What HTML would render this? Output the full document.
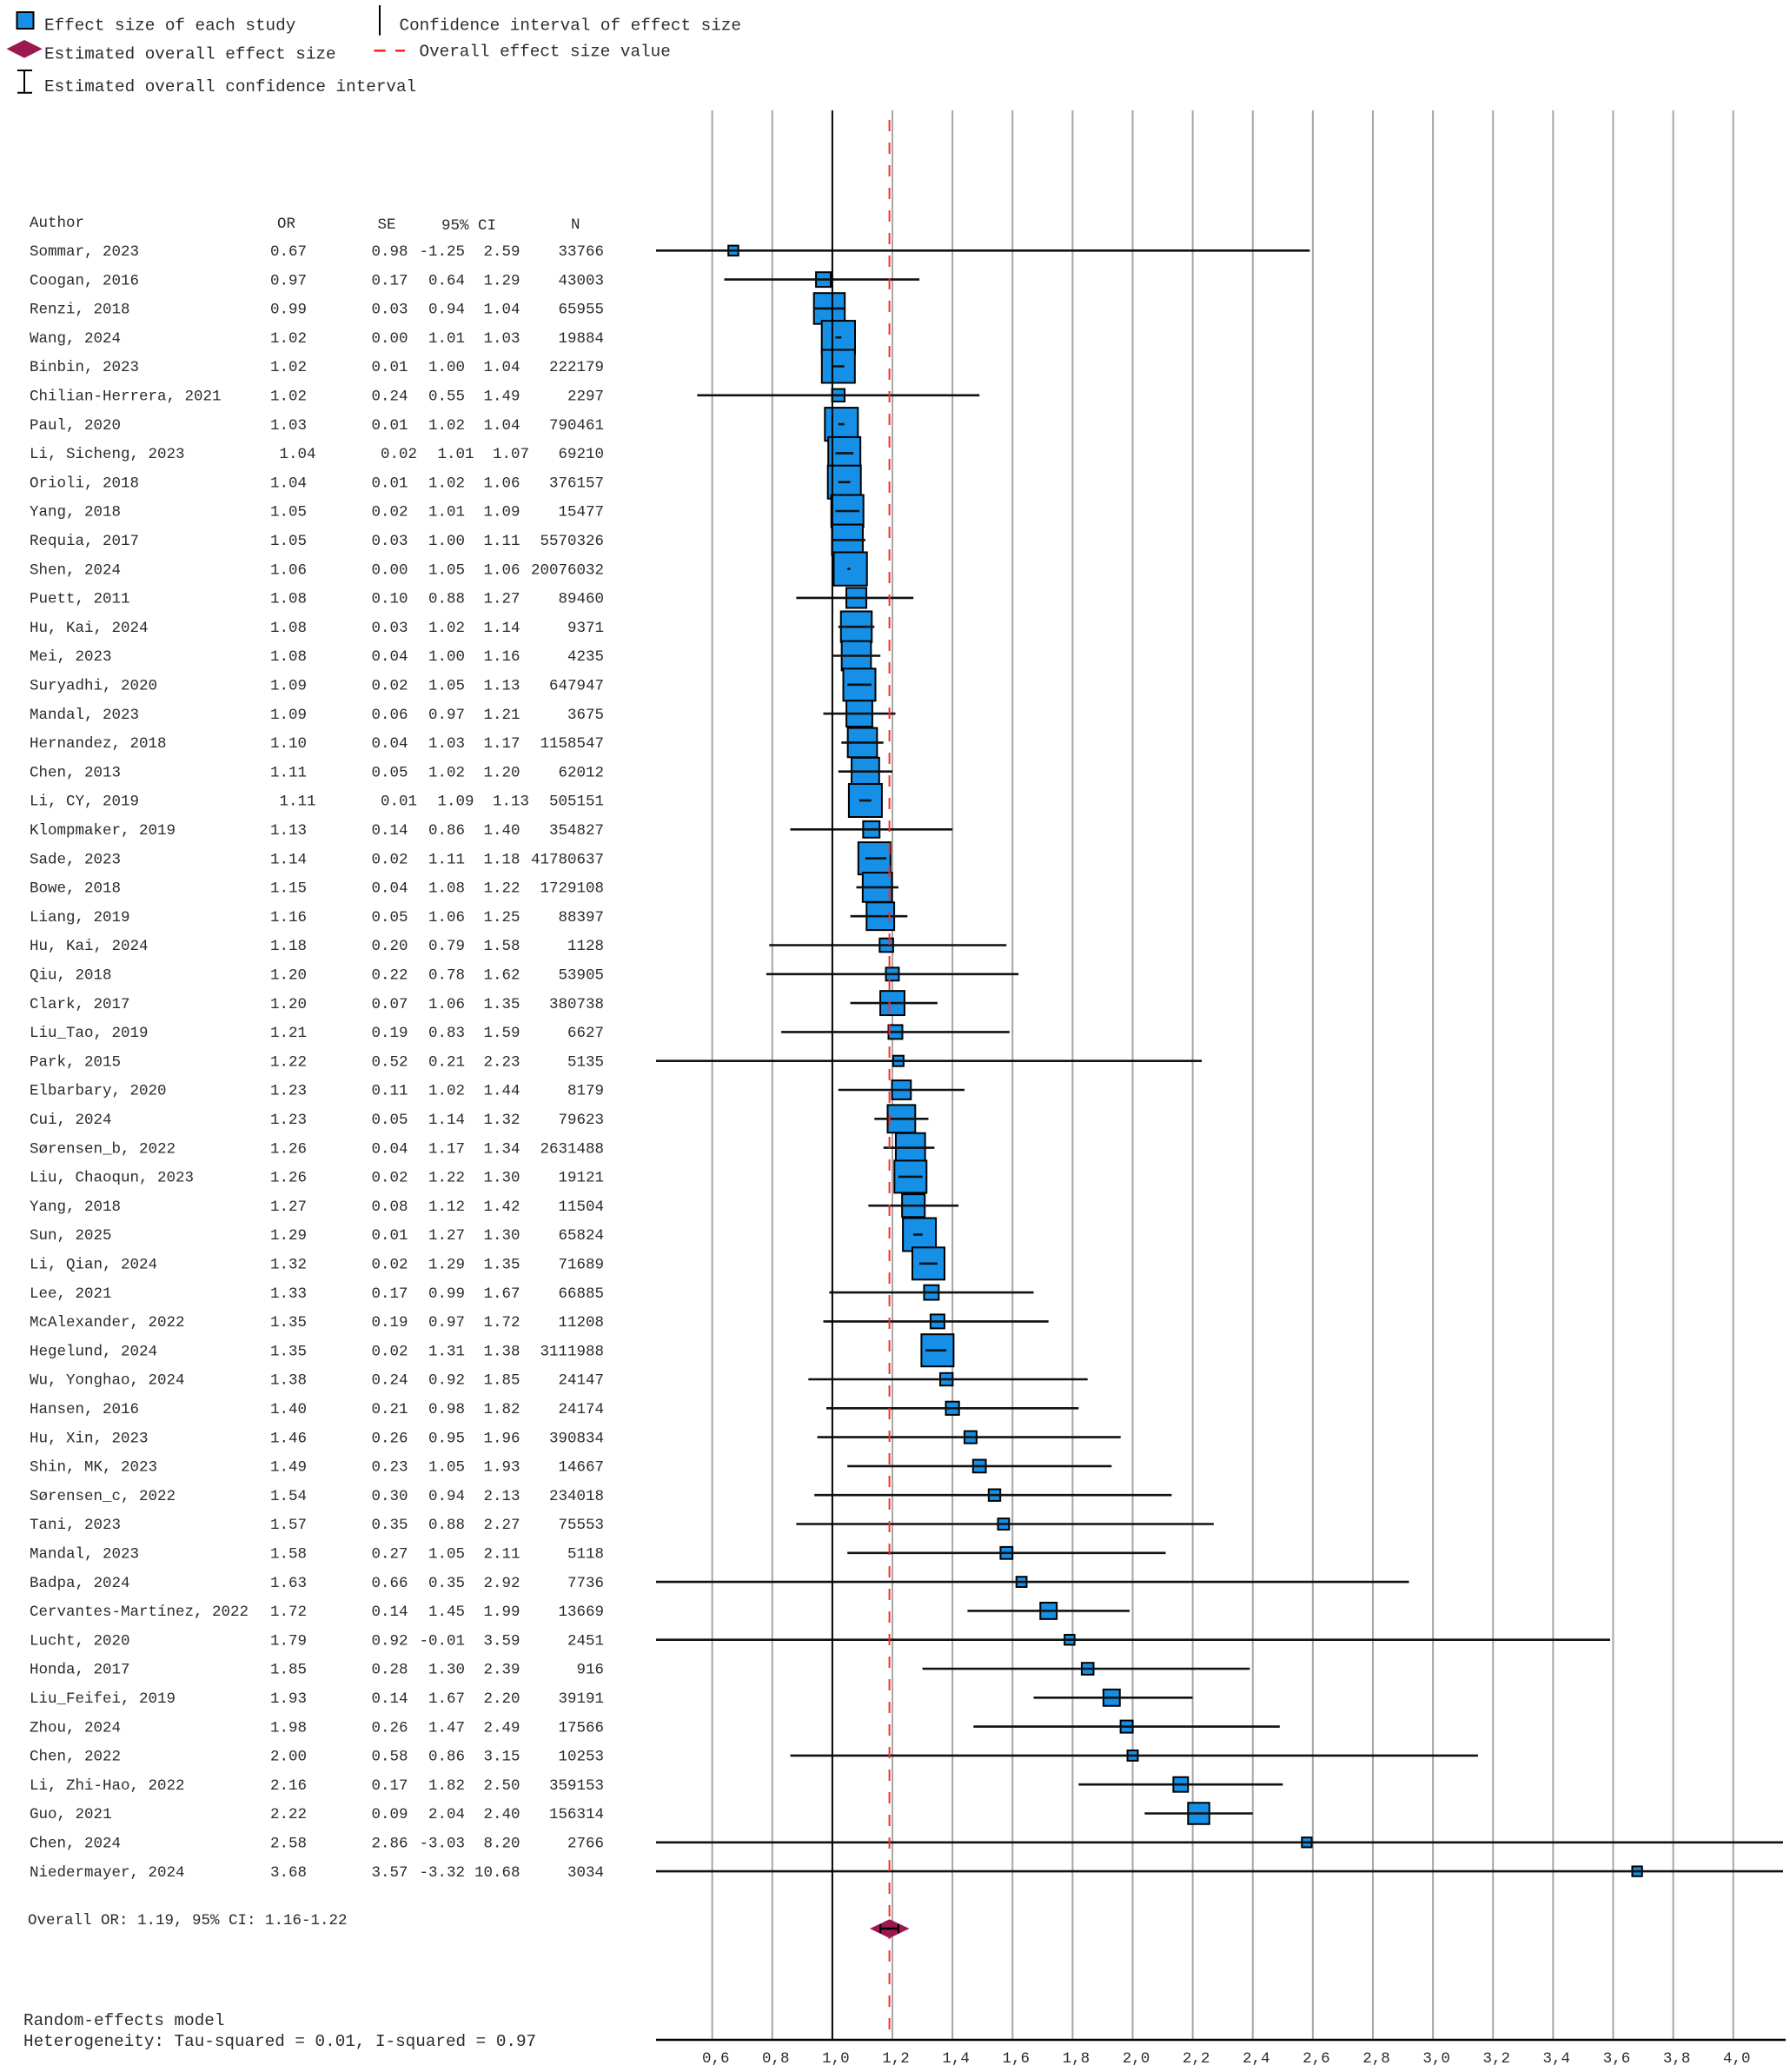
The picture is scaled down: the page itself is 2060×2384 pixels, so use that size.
<!DOCTYPE html>
<html><head><meta charset="utf-8"><style>
html,body{margin:0;padding:0;background:#fff;}
svg{display:block;}
text{font-family:"Liberation Mono","DejaVu Sans Mono",monospace;fill:#2b2b2b;}
.t text{font-size:17.5px;}
.e{text-anchor:end;}
.lg{font-size:19.3px;}
.tk{font-size:17.5px;text-anchor:middle;}
.b{fill:#1590e6;stroke:#000;stroke-width:2;}
.ci{stroke:#111;stroke-width:2.6;}
.g{stroke:#a6a6a6;stroke-width:2;}
</style></head><body>
<svg width="2060" height="2384" viewBox="0 0 2060 2384" xmlns="http://www.w3.org/2000/svg">
<rect width="2060" height="2384" fill="#fff"/>
<!-- Legend -->
<rect x="19.5" y="14" width="19" height="19" class="b"/>
<text class="lg" x="51" y="34.3">Effect size of each study</text>
<line x1="437" y1="6" x2="437" y2="40.7" stroke="#000" stroke-width="2"/>
<text class="lg" x="459.5" y="34.3">Confidence interval of effect size</text>
<polygon points="7.5,56.3 28,46 48.8,56.3 28,66.7" fill="#9c1850"/>
<text class="lg" x="51" y="67.5">Estimated overall effect size</text>
<line x1="430.5" y1="58.3" x2="443.7" y2="58.3" stroke="#ff2020" stroke-width="2.5"/>
<line x1="455" y1="58.3" x2="466" y2="58.3" stroke="#ff2020" stroke-width="2.5"/>
<text class="lg" x="482.5" y="64.5">Overall effect size value</text>
<line x1="28" y1="80" x2="28" y2="107.7" stroke="#000" stroke-width="2"/>
<line x1="20" y1="81" x2="37" y2="81" stroke="#000" stroke-width="2"/>
<line x1="20" y1="106.7" x2="37" y2="106.7" stroke="#000" stroke-width="2"/>
<text class="lg" x="51" y="105">Estimated overall confidence interval</text>

<!-- Gridlines -->
<g class="g">
<line x1="819.66" y1="127" x2="819.66" y2="2347"/>
<line x1="888.78" y1="127" x2="888.78" y2="2347"/>
<line x1="1027.02" y1="127" x2="1027.02" y2="2347"/>
<line x1="1096.14" y1="127" x2="1096.14" y2="2347"/>
<line x1="1165.26" y1="127" x2="1165.26" y2="2347"/>
<line x1="1234.38" y1="127" x2="1234.38" y2="2347"/>
<line x1="1303.5" y1="127" x2="1303.5" y2="2347"/>
<line x1="1372.62" y1="127" x2="1372.62" y2="2347"/>
<line x1="1441.74" y1="127" x2="1441.74" y2="2347"/>
<line x1="1510.86" y1="127" x2="1510.86" y2="2347"/>
<line x1="1579.98" y1="127" x2="1579.98" y2="2347"/>
<line x1="1649.1" y1="127" x2="1649.1" y2="2347"/>
<line x1="1718.22" y1="127" x2="1718.22" y2="2347"/>
<line x1="1787.34" y1="127" x2="1787.34" y2="2347"/>
<line x1="1856.46" y1="127" x2="1856.46" y2="2347"/>
<line x1="1925.58" y1="127" x2="1925.58" y2="2347"/>
<line x1="1994.7" y1="127" x2="1994.7" y2="2347"/>
</g>

<!-- Studies: box then CI -->
<rect class="b" x="838.2" y="282.6" width="11.5" height="11.5"/><line class="ci" x1="755" y1="288.3" x2="1507.4" y2="288.3"/>
<rect class="b" x="939.1" y="313.2" width="16.9" height="16.9"/><line class="ci" x1="833.5" y1="321.6" x2="1058.1" y2="321.6"/>
<rect class="b" x="936.7" y="337.2" width="35.5" height="35.5"/><line class="ci" x1="937.2" y1="354.9" x2="971.7" y2="354.9"/>
<rect class="b" x="945.7" y="369.1" width="38.3" height="38.3"/><line class="ci" x1="961.4" y1="388.2" x2="968.3" y2="388.2"/>
<rect class="b" x="945.8" y="402.5" width="38" height="38"/><line class="ci" x1="957.9" y1="421.5" x2="971.7" y2="421.5"/>
<rect class="b" x="957.6" y="447.6" width="14.4" height="14.4"/><line class="ci" x1="802.4" y1="454.8" x2="1127.2" y2="454.8"/>
<rect class="b" x="949.3" y="469.1" width="38" height="38"/><line class="ci" x1="964.8" y1="488.1" x2="971.7" y2="488.1"/>
<rect class="b" x="953.2" y="502.9" width="37" height="37"/><line class="ci" x1="961.4" y1="521.4" x2="982.1" y2="521.4"/>
<rect class="b" x="952.7" y="535.7" width="38" height="38"/><line class="ci" x1="964.8" y1="554.7" x2="978.6" y2="554.7"/>
<rect class="b" x="956.7" y="569.5" width="37" height="37"/><line class="ci" x1="961.4" y1="588" x2="989" y2="588"/>
<rect class="b" x="957.45" y="603.55" width="35.5" height="35.5"/><line class="ci" x1="957.9" y1="621.3" x2="995.9" y2="621.3"/>
<rect class="b" x="959.45" y="635.45" width="38.3" height="38.3"/><line class="ci" x1="975.2" y1="654.6" x2="978.6" y2="654.6"/>
<rect class="b" x="974" y="676.4" width="23.05" height="23.05"/><line class="ci" x1="916.4" y1="687.9" x2="1051.2" y2="687.9"/>
<rect class="b" x="967.75" y="703.45" width="35.5" height="35.5"/><line class="ci" x1="964.8" y1="721.2" x2="1006.3" y2="721.2"/>
<rect class="b" x="968.65" y="737.65" width="33.7" height="33.7"/><line class="ci" x1="957.9" y1="754.5" x2="1013.2" y2="754.5"/>
<rect class="b" x="970.5" y="769.3" width="37" height="37"/><line class="ci" x1="975.2" y1="787.8" x2="1002.8" y2="787.8"/>
<rect class="b" x="974.1" y="806.2" width="29.8" height="29.8"/><line class="ci" x1="947.5" y1="821.1" x2="1030.5" y2="821.1"/>
<rect class="b" x="975.65" y="837.55" width="33.7" height="33.7"/><line class="ci" x1="968.3" y1="854.4" x2="1016.7" y2="854.4"/>
<rect class="b" x="980" y="871.8" width="31.8" height="31.8"/><line class="ci" x1="964.8" y1="887.7" x2="1027" y2="887.7"/>
<rect class="b" x="976.9" y="902" width="38" height="38"/><line class="ci" x1="989" y1="921" x2="1002.8" y2="921"/>
<rect class="b" x="993.35" y="944.85" width="18.9" height="18.9"/><line class="ci" x1="909.5" y1="954.3" x2="1096.1" y2="954.3"/>
<rect class="b" x="987.8" y="969.1" width="37" height="37"/><line class="ci" x1="995.9" y1="987.6" x2="1020.1" y2="987.6"/>
<rect class="b" x="992.85" y="1004.05" width="33.7" height="33.7"/><line class="ci" x1="985.5" y1="1020.9" x2="1033.9" y2="1020.9"/>
<rect class="b" x="997.3" y="1038.3" width="31.8" height="31.8"/><line class="ci" x1="978.6" y1="1054.2" x2="1044.3" y2="1054.2"/>
<rect class="b" x="1012.3" y="1079.7" width="15.6" height="15.6"/><line class="ci" x1="885.3" y1="1087.5" x2="1158.3" y2="1087.5"/>
<rect class="b" x="1019.55" y="1113.35" width="14.9" height="14.9"/><line class="ci" x1="881.9" y1="1120.8" x2="1172.2" y2="1120.8"/>
<rect class="b" x="1013.05" y="1140.15" width="27.9" height="27.9"/><line class="ci" x1="978.6" y1="1154.1" x2="1078.9" y2="1154.1"/>
<rect class="b" x="1022.5" y="1179.4" width="16" height="16"/><line class="ci" x1="899.1" y1="1187.4" x2="1161.8" y2="1187.4"/>
<rect class="b" x="1027.9" y="1214.7" width="12" height="12"/><line class="ci" x1="755" y1="1220.7" x2="1383" y2="1220.7"/>
<rect class="b" x="1026.5" y="1243.1" width="21.8" height="21.8"/><line class="ci" x1="964.8" y1="1254" x2="1110" y2="1254"/>
<rect class="b" x="1021.5" y="1271.4" width="31.8" height="31.8"/><line class="ci" x1="1006.3" y1="1287.3" x2="1068.5" y2="1287.3"/>
<rect class="b" x="1030.95" y="1303.75" width="33.7" height="33.7"/><line class="ci" x1="1016.7" y1="1320.6" x2="1075.4" y2="1320.6"/>
<rect class="b" x="1029.3" y="1335.4" width="37" height="37"/><line class="ci" x1="1033.9" y1="1353.9" x2="1061.6" y2="1353.9"/>
<rect class="b" x="1038.15" y="1374.15" width="26.1" height="26.1"/><line class="ci" x1="999.4" y1="1387.2" x2="1103.1" y2="1387.2"/>
<rect class="b" x="1039.1" y="1401.5" width="38" height="38"/><line class="ci" x1="1051.2" y1="1420.5" x2="1061.6" y2="1420.5"/>
<rect class="b" x="1050" y="1435.3" width="37" height="37"/><line class="ci" x1="1058.1" y1="1453.8" x2="1078.9" y2="1453.8"/>
<rect class="b" x="1063.45" y="1478.65" width="16.9" height="16.9"/><line class="ci" x1="954.4" y1="1487.1" x2="1189.5" y2="1487.1"/>
<rect class="b" x="1070.9" y="1512.4" width="16" height="16"/><line class="ci" x1="947.5" y1="1520.4" x2="1206.7" y2="1520.4"/>
<rect class="b" x="1060.4" y="1535.2" width="37" height="37"/><line class="ci" x1="1065" y1="1553.7" x2="1089.2" y2="1553.7"/>
<rect class="b" x="1082" y="1579.8" width="14.4" height="14.4"/><line class="ci" x1="930.3" y1="1587" x2="1251.7" y2="1587"/>
<rect class="b" x="1088.5" y="1612.7" width="15.2" height="15.2"/><line class="ci" x1="951" y1="1620.3" x2="1241.3" y2="1620.3"/>
<rect class="b" x="1109.9" y="1646.6" width="14" height="14"/><line class="ci" x1="940.6" y1="1653.6" x2="1289.7" y2="1653.6"/>
<rect class="b" x="1119.85" y="1679.55" width="14.7" height="14.7"/><line class="ci" x1="975.2" y1="1686.9" x2="1279.3" y2="1686.9"/>
<rect class="b" x="1137.8" y="1713.5" width="13.4" height="13.4"/><line class="ci" x1="937.2" y1="1720.2" x2="1348.4" y2="1720.2"/>
<rect class="b" x="1148.5" y="1747.1" width="12.85" height="12.85"/><line class="ci" x1="916.4" y1="1753.5" x2="1396.8" y2="1753.5"/>
<rect class="b" x="1151.4" y="1779.9" width="13.8" height="13.8"/><line class="ci" x1="975.2" y1="1786.8" x2="1341.5" y2="1786.8"/>
<rect class="b" x="1169.7" y="1814.2" width="11.75" height="11.75"/><line class="ci" x1="755" y1="1820.1" x2="1621.5" y2="1820.1"/>
<rect class="b" x="1197.25" y="1843.95" width="18.9" height="18.9"/><line class="ci" x1="1113.4" y1="1853.4" x2="1300" y2="1853.4"/>
<rect class="b" x="1225.15" y="1880.95" width="11.5" height="11.5"/><line class="ci" x1="755" y1="1886.7" x2="1853" y2="1886.7"/>
<rect class="b" x="1244.9" y="1913.2" width="13.6" height="13.6"/><line class="ci" x1="1061.6" y1="1920" x2="1438.3" y2="1920"/>
<rect class="b" x="1269.85" y="1943.85" width="18.9" height="18.9"/><line class="ci" x1="1189.5" y1="1953.3" x2="1372.6" y2="1953.3"/>
<rect class="b" x="1289.6" y="1979.6" width="14" height="14"/><line class="ci" x1="1120.3" y1="1986.6" x2="1472.8" y2="1986.6"/>
<rect class="b" x="1297.55" y="2013.95" width="11.9" height="11.9"/><line class="ci" x1="909.5" y1="2019.9" x2="1700.9" y2="2019.9"/>
<rect class="b" x="1350.35" y="2044.75" width="16.9" height="16.9"/><line class="ci" x1="1241.3" y1="2053.2" x2="1476.3" y2="2053.2"/>
<rect class="b" x="1367.25" y="2074.25" width="24.5" height="24.5"/><line class="ci" x1="1317.3" y1="2086.5" x2="1441.7" y2="2086.5"/>
<rect class="b" x="1498.25" y="2114.15" width="11.3" height="11.3"/><line class="ci" x1="755" y1="2119.8" x2="2052" y2="2119.8"/>
<rect class="b" x="1878.45" y="2147.45" width="11.3" height="11.3"/><line class="ci" x1="755" y1="2153.1" x2="2052" y2="2153.1"/>

<!-- Overall dashed line -->
<line x1="1023.6" y1="138" x2="1023.6" y2="2347" stroke="#ff2a2a" stroke-width="2" stroke-dasharray="13 13"/>
<!-- Reference line at 1.0 -->
<line x1="957.9" y1="127" x2="957.9" y2="2347" stroke="#000" stroke-width="2"/>
<!-- Axis -->
<line x1="755" y1="2347" x2="2055" y2="2347" stroke="#000" stroke-width="2.5"/>
<!-- Overall diamond -->
<polygon points="1001,2219 1023.7,2208.3 1046.5,2219 1023.7,2230" fill="#9c1850"/>
<line x1="1013.2" y1="2219" x2="1034" y2="2219" stroke="#000" stroke-width="2.5"/>
<line x1="1013.2" y1="2214" x2="1013.2" y2="2224" stroke="#000" stroke-width="2"/>
<line x1="1034" y1="2214" x2="1034" y2="2224" stroke="#000" stroke-width="2"/>

<!-- Tick labels -->
<g class="tk">
<text class="tk" x="823.7" y="2373">0,6</text>
<text class="tk" x="892.8" y="2373">0,8</text>
<text class="tk" x="961.9" y="2373">1,0</text>
<text class="tk" x="1031" y="2373">1,2</text>
<text class="tk" x="1100.1" y="2373">1,4</text>
<text class="tk" x="1169.3" y="2373">1,6</text>
<text class="tk" x="1238.4" y="2373">1,8</text>
<text class="tk" x="1307.5" y="2373">2,0</text>
<text class="tk" x="1376.6" y="2373">2,2</text>
<text class="tk" x="1445.7" y="2373">2,4</text>
<text class="tk" x="1514.9" y="2373">2,6</text>
<text class="tk" x="1584" y="2373">2,8</text>
<text class="tk" x="1653.1" y="2373">3,0</text>
<text class="tk" x="1722.2" y="2373">3,2</text>
<text class="tk" x="1791.3" y="2373">3,4</text>
<text class="tk" x="1860.5" y="2373">3,6</text>
<text class="tk" x="1929.6" y="2373">3,8</text>
<text class="tk" x="1998.7" y="2373">4,0</text>
</g>

<!-- Table -->
<g class="t">
<text x="34" y="261">Author</text>
<text x="319" y="262">OR</text>
<text x="434.5" y="263">SE</text>
<text x="508" y="264">95% CI</text>
<text x="657" y="263">N</text>

<g transform="translate(0,294)"><text x="34">Sommar, 2023</text><text x="311">0.67</text><text x="427.5">0.98</text><text class="e" x="535">-1.25</text><text class="e" x="598.5">2.59</text><text class="e" x="695">33766</text></g>
<g transform="translate(0,327.3)"><text x="34">Coogan, 2016</text><text x="311">0.97</text><text x="427.5">0.17</text><text class="e" x="535">0.64</text><text class="e" x="598.5">1.29</text><text class="e" x="695">43003</text></g>
<g transform="translate(0,360.6)"><text x="34">Renzi, 2018</text><text x="311">0.99</text><text x="427.5">0.03</text><text class="e" x="535">0.94</text><text class="e" x="598.5">1.04</text><text class="e" x="695">65955</text></g>
<g transform="translate(0,393.9)"><text x="34">Wang, 2024</text><text x="311">1.02</text><text x="427.5">0.00</text><text class="e" x="535">1.01</text><text class="e" x="598.5">1.03</text><text class="e" x="695">19884</text></g>
<g transform="translate(0,427.2)"><text x="34">Binbin, 2023</text><text x="311">1.02</text><text x="427.5">0.01</text><text class="e" x="535">1.00</text><text class="e" x="598.5">1.04</text><text class="e" x="695">222179</text></g>
<g transform="translate(0,460.5)"><text x="34">Chilian-Herrera, 2021</text><text x="311">1.02</text><text x="427.5">0.24</text><text class="e" x="535">0.55</text><text class="e" x="598.5">1.49</text><text class="e" x="695">2297</text></g>
<g transform="translate(0,493.8)"><text x="34">Paul, 2020</text><text x="311">1.03</text><text x="427.5">0.01</text><text class="e" x="535">1.02</text><text class="e" x="598.5">1.04</text><text class="e" x="695">790461</text></g>
<g transform="translate(0,527.1)"><text x="34">Li, Sicheng, 2023</text><text x="321.5">1.04</text><text x="438">0.02</text><text class="e" x="545.5">1.01</text><text class="e" x="609">1.07</text><text class="e" x="695">69210</text></g>
<g transform="translate(0,560.4)"><text x="34">Orioli, 2018</text><text x="311">1.04</text><text x="427.5">0.01</text><text class="e" x="535">1.02</text><text class="e" x="598.5">1.06</text><text class="e" x="695">376157</text></g>
<g transform="translate(0,593.7)"><text x="34">Yang, 2018</text><text x="311">1.05</text><text x="427.5">0.02</text><text class="e" x="535">1.01</text><text class="e" x="598.5">1.09</text><text class="e" x="695">15477</text></g>
<g transform="translate(0,627)"><text x="34">Requia, 2017</text><text x="311">1.05</text><text x="427.5">0.03</text><text class="e" x="535">1.00</text><text class="e" x="598.5">1.11</text><text class="e" x="695">5570326</text></g>
<g transform="translate(0,660.3)"><text x="34">Shen, 2024</text><text x="311">1.06</text><text x="427.5">0.00</text><text class="e" x="535">1.05</text><text class="e" x="598.5">1.06</text><text class="e" x="695">20076032</text></g>
<g transform="translate(0,693.6)"><text x="34">Puett, 2011</text><text x="311">1.08</text><text x="427.5">0.10</text><text class="e" x="535">0.88</text><text class="e" x="598.5">1.27</text><text class="e" x="695">89460</text></g>
<g transform="translate(0,726.9)"><text x="34">Hu, Kai, 2024</text><text x="311">1.08</text><text x="427.5">0.03</text><text class="e" x="535">1.02</text><text class="e" x="598.5">1.14</text><text class="e" x="695">9371</text></g>
<g transform="translate(0,760.2)"><text x="34">Mei, 2023</text><text x="311">1.08</text><text x="427.5">0.04</text><text class="e" x="535">1.00</text><text class="e" x="598.5">1.16</text><text class="e" x="695">4235</text></g>
<g transform="translate(0,793.5)"><text x="34">Suryadhi, 2020</text><text x="311">1.09</text><text x="427.5">0.02</text><text class="e" x="535">1.05</text><text class="e" x="598.5">1.13</text><text class="e" x="695">647947</text></g>
<g transform="translate(0,826.8)"><text x="34">Mandal, 2023</text><text x="311">1.09</text><text x="427.5">0.06</text><text class="e" x="535">0.97</text><text class="e" x="598.5">1.21</text><text class="e" x="695">3675</text></g>
<g transform="translate(0,860.1)"><text x="34">Hernandez, 2018</text><text x="311">1.10</text><text x="427.5">0.04</text><text class="e" x="535">1.03</text><text class="e" x="598.5">1.17</text><text class="e" x="695">1158547</text></g>
<g transform="translate(0,893.4)"><text x="34">Chen, 2013</text><text x="311">1.11</text><text x="427.5">0.05</text><text class="e" x="535">1.02</text><text class="e" x="598.5">1.20</text><text class="e" x="695">62012</text></g>
<g transform="translate(0,926.7)"><text x="34">Li, CY, 2019</text><text x="321.5">1.11</text><text x="438">0.01</text><text class="e" x="545.5">1.09</text><text class="e" x="609">1.13</text><text class="e" x="695">505151</text></g>
<g transform="translate(0,960)"><text x="34">Klompmaker, 2019</text><text x="311">1.13</text><text x="427.5">0.14</text><text class="e" x="535">0.86</text><text class="e" x="598.5">1.40</text><text class="e" x="695">354827</text></g>
<g transform="translate(0,993.3)"><text x="34">Sade, 2023</text><text x="311">1.14</text><text x="427.5">0.02</text><text class="e" x="535">1.11</text><text class="e" x="598.5">1.18</text><text class="e" x="695">41780637</text></g>
<g transform="translate(0,1026.6)"><text x="34">Bowe, 2018</text><text x="311">1.15</text><text x="427.5">0.04</text><text class="e" x="535">1.08</text><text class="e" x="598.5">1.22</text><text class="e" x="695">1729108</text></g>
<g transform="translate(0,1059.9)"><text x="34">Liang, 2019</text><text x="311">1.16</text><text x="427.5">0.05</text><text class="e" x="535">1.06</text><text class="e" x="598.5">1.25</text><text class="e" x="695">88397</text></g>
<g transform="translate(0,1093.2)"><text x="34">Hu, Kai, 2024</text><text x="311">1.18</text><text x="427.5">0.20</text><text class="e" x="535">0.79</text><text class="e" x="598.5">1.58</text><text class="e" x="695">1128</text></g>
<g transform="translate(0,1126.5)"><text x="34">Qiu, 2018</text><text x="311">1.20</text><text x="427.5">0.22</text><text class="e" x="535">0.78</text><text class="e" x="598.5">1.62</text><text class="e" x="695">53905</text></g>
<g transform="translate(0,1159.8)"><text x="34">Clark, 2017</text><text x="311">1.20</text><text x="427.5">0.07</text><text class="e" x="535">1.06</text><text class="e" x="598.5">1.35</text><text class="e" x="695">380738</text></g>
<g transform="translate(0,1193.1)"><text x="34">Liu_Tao, 2019</text><text x="311">1.21</text><text x="427.5">0.19</text><text class="e" x="535">0.83</text><text class="e" x="598.5">1.59</text><text class="e" x="695">6627</text></g>
<g transform="translate(0,1226.4)"><text x="34">Park, 2015</text><text x="311">1.22</text><text x="427.5">0.52</text><text class="e" x="535">0.21</text><text class="e" x="598.5">2.23</text><text class="e" x="695">5135</text></g>
<g transform="translate(0,1259.7)"><text x="34">Elbarbary, 2020</text><text x="311">1.23</text><text x="427.5">0.11</text><text class="e" x="535">1.02</text><text class="e" x="598.5">1.44</text><text class="e" x="695">8179</text></g>
<g transform="translate(0,1293)"><text x="34">Cui, 2024</text><text x="311">1.23</text><text x="427.5">0.05</text><text class="e" x="535">1.14</text><text class="e" x="598.5">1.32</text><text class="e" x="695">79623</text></g>
<g transform="translate(0,1326.3)"><text x="34">Sørensen_b, 2022</text><text x="311">1.26</text><text x="427.5">0.04</text><text class="e" x="535">1.17</text><text class="e" x="598.5">1.34</text><text class="e" x="695">2631488</text></g>
<g transform="translate(0,1359.6)"><text x="34">Liu, Chaoqun, 2023</text><text x="311">1.26</text><text x="427.5">0.02</text><text class="e" x="535">1.22</text><text class="e" x="598.5">1.30</text><text class="e" x="695">19121</text></g>
<g transform="translate(0,1392.9)"><text x="34">Yang, 2018</text><text x="311">1.27</text><text x="427.5">0.08</text><text class="e" x="535">1.12</text><text class="e" x="598.5">1.42</text><text class="e" x="695">11504</text></g>
<g transform="translate(0,1426.2)"><text x="34">Sun, 2025</text><text x="311">1.29</text><text x="427.5">0.01</text><text class="e" x="535">1.27</text><text class="e" x="598.5">1.30</text><text class="e" x="695">65824</text></g>
<g transform="translate(0,1459.5)"><text x="34">Li, Qian, 2024</text><text x="311">1.32</text><text x="427.5">0.02</text><text class="e" x="535">1.29</text><text class="e" x="598.5">1.35</text><text class="e" x="695">71689</text></g>
<g transform="translate(0,1492.8)"><text x="34">Lee, 2021</text><text x="311">1.33</text><text x="427.5">0.17</text><text class="e" x="535">0.99</text><text class="e" x="598.5">1.67</text><text class="e" x="695">66885</text></g>
<g transform="translate(0,1526.1)"><text x="34">McAlexander, 2022</text><text x="311">1.35</text><text x="427.5">0.19</text><text class="e" x="535">0.97</text><text class="e" x="598.5">1.72</text><text class="e" x="695">11208</text></g>
<g transform="translate(0,1559.4)"><text x="34">Hegelund, 2024</text><text x="311">1.35</text><text x="427.5">0.02</text><text class="e" x="535">1.31</text><text class="e" x="598.5">1.38</text><text class="e" x="695">3111988</text></g>
<g transform="translate(0,1592.7)"><text x="34">Wu, Yonghao, 2024</text><text x="311">1.38</text><text x="427.5">0.24</text><text class="e" x="535">0.92</text><text class="e" x="598.5">1.85</text><text class="e" x="695">24147</text></g>
<g transform="translate(0,1626)"><text x="34">Hansen, 2016</text><text x="311">1.40</text><text x="427.5">0.21</text><text class="e" x="535">0.98</text><text class="e" x="598.5">1.82</text><text class="e" x="695">24174</text></g>
<g transform="translate(0,1659.3)"><text x="34">Hu, Xin, 2023</text><text x="311">1.46</text><text x="427.5">0.26</text><text class="e" x="535">0.95</text><text class="e" x="598.5">1.96</text><text class="e" x="695">390834</text></g>
<g transform="translate(0,1692.6)"><text x="34">Shin, MK, 2023</text><text x="311">1.49</text><text x="427.5">0.23</text><text class="e" x="535">1.05</text><text class="e" x="598.5">1.93</text><text class="e" x="695">14667</text></g>
<g transform="translate(0,1725.9)"><text x="34">Sørensen_c, 2022</text><text x="311">1.54</text><text x="427.5">0.30</text><text class="e" x="535">0.94</text><text class="e" x="598.5">2.13</text><text class="e" x="695">234018</text></g>
<g transform="translate(0,1759.2)"><text x="34">Tani, 2023</text><text x="311">1.57</text><text x="427.5">0.35</text><text class="e" x="535">0.88</text><text class="e" x="598.5">2.27</text><text class="e" x="695">75553</text></g>
<g transform="translate(0,1792.5)"><text x="34">Mandal, 2023</text><text x="311">1.58</text><text x="427.5">0.27</text><text class="e" x="535">1.05</text><text class="e" x="598.5">2.11</text><text class="e" x="695">5118</text></g>
<g transform="translate(0,1825.8)"><text x="34">Badpa, 2024</text><text x="311">1.63</text><text x="427.5">0.66</text><text class="e" x="535">0.35</text><text class="e" x="598.5">2.92</text><text class="e" x="695">7736</text></g>
<g transform="translate(0,1859.1)"><text x="34">Cervantes-Martínez, 2022</text><text x="311">1.72</text><text x="427.5">0.14</text><text class="e" x="535">1.45</text><text class="e" x="598.5">1.99</text><text class="e" x="695">13669</text></g>
<g transform="translate(0,1892.4)"><text x="34">Lucht, 2020</text><text x="311">1.79</text><text x="427.5">0.92</text><text class="e" x="535">-0.01</text><text class="e" x="598.5">3.59</text><text class="e" x="695">2451</text></g>
<g transform="translate(0,1925.7)"><text x="34">Honda, 2017</text><text x="311">1.85</text><text x="427.5">0.28</text><text class="e" x="535">1.30</text><text class="e" x="598.5">2.39</text><text class="e" x="695">916</text></g>
<g transform="translate(0,1959)"><text x="34">Liu_Feifei, 2019</text><text x="311">1.93</text><text x="427.5">0.14</text><text class="e" x="535">1.67</text><text class="e" x="598.5">2.20</text><text class="e" x="695">39191</text></g>
<g transform="translate(0,1992.3)"><text x="34">Zhou, 2024</text><text x="311">1.98</text><text x="427.5">0.26</text><text class="e" x="535">1.47</text><text class="e" x="598.5">2.49</text><text class="e" x="695">17566</text></g>
<g transform="translate(0,2025.6)"><text x="34">Chen, 2022</text><text x="311">2.00</text><text x="427.5">0.58</text><text class="e" x="535">0.86</text><text class="e" x="598.5">3.15</text><text class="e" x="695">10253</text></g>
<g transform="translate(0,2058.9)"><text x="34">Li, Zhi-Hao, 2022</text><text x="311">2.16</text><text x="427.5">0.17</text><text class="e" x="535">1.82</text><text class="e" x="598.5">2.50</text><text class="e" x="695">359153</text></g>
<g transform="translate(0,2092.2)"><text x="34">Guo, 2021</text><text x="311">2.22</text><text x="427.5">0.09</text><text class="e" x="535">2.04</text><text class="e" x="598.5">2.40</text><text class="e" x="695">156314</text></g>
<g transform="translate(0,2125.5)"><text x="34">Chen, 2024</text><text x="311">2.58</text><text x="427.5">2.86</text><text class="e" x="535">-3.03</text><text class="e" x="598.5">8.20</text><text class="e" x="695">2766</text></g>
<g transform="translate(0,2158.8)"><text x="34">Niedermayer, 2024</text><text x="311">3.68</text><text x="427.5">3.57</text><text class="e" x="535">-3.32</text><text class="e" x="598.5">10.68</text><text class="e" x="695">3034</text></g>

<text x="32" y="2214">Overall OR: 1.19, 95% CI: 1.16-1.22</text>
</g>

<text class="lg" x="27" y="2330">Random-effects model</text>
<text class="lg" x="27" y="2354">Heterogeneity: Tau-squared = 0.01, I-squared = 0.97</text>
</svg>
</body></html>
